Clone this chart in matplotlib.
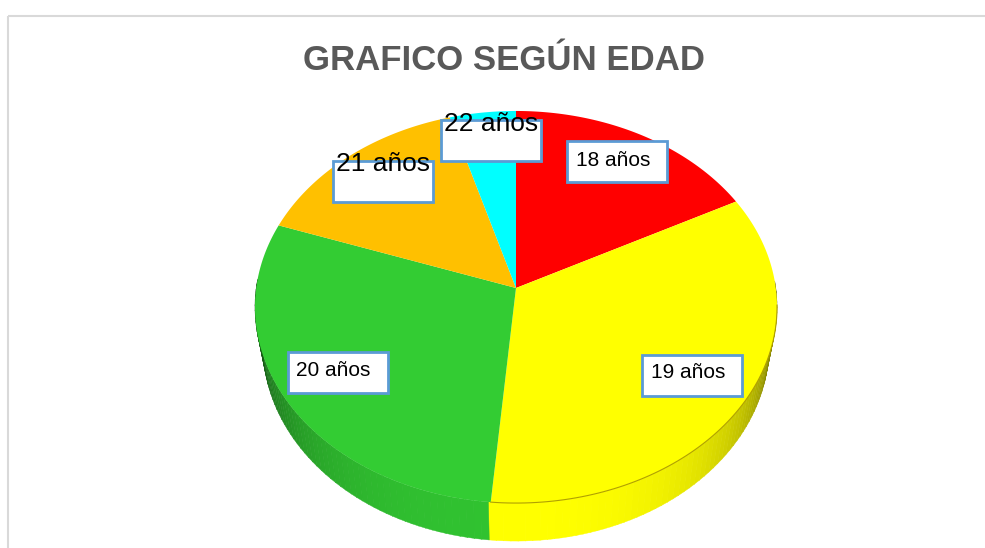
import numpy as np
import matplotlib
matplotlib.use('Agg')
import matplotlib.pyplot as plt
from matplotlib.patches import Rectangle
from matplotlib.path import Path
from matplotlib.transforms import Affine2D, Transform
from matplotlib.colors import to_rgb

plt.rcParams['font.family'] = ['Liberation Sans', 'DejaVu Sans']

labels = ['18 años', '19 años', '20 años', '21 años', '22 años']
values = [17.3, 34.1, 29.0, 15.1, 4.5]
colors = ['#ff0000', '#ffff00', '#33cc33', '#ffc000', '#00ffff']

# label box left, top, text x, text y, font size
boxes = [
    (567, 141, 576, 160, 15),
    (642, 355, 651, 373, 15),
    (288, 352, 296, 371, 15),
    (333, 161, 336, 164, 19),
    (441, 120, 444, 124, 19),
]

CX, CY = 516, 288
PERSP = 0.097
SCALE_X, SCALE_Y = 259.8, 194.2
DEPTH = 38
SHRINK = 0.97


def project(xy):
    # tilted disc, the far side looks smaller than the near side
    u, v = xy[:, 0], xy[:, 1]
    w = 1 + PERSP * v
    return np.column_stack([CX + SCALE_X * u / w, CY - SCALE_Y * v / w])


class Tilt(Transform):
    input_dims = 2
    output_dims = 2
    is_separable = False
    has_inverse = False

    def transform_non_affine(self, xy):
        return project(np.asarray(xy, dtype=float))

    def transform_path_non_affine(self, path):
        big = path.transformed(Affine2D().scale(2000))
        poly = big.to_polygons(closed_only=False)[0] / 2000
        return Path(project(poly))


fig = plt.figure(figsize=(9.85, 5.48), dpi=100)
ax = fig.add_axes([0, 0, 1, 1])

wedges, _ = ax.pie(values, colors=colors, startangle=90, counterclock=False,
                   wedgeprops={'linewidth': 0})
tilt = Tilt() + ax.transData
for w in wedges:
    w.set_transform(tilt)
    w.set_zorder(3)
    w.set_clip_on(False)

ax.set_aspect('auto')
ax.set_xlim(0, 985)
ax.set_ylim(548, 0)
ax.axis('off')

# side wall of the disc
edges = np.cumsum([0] + values) / sum(values) * 360
steps = np.arange(88, 272, 1.5)
for a in steps:
    t = np.radians([a, a + 1.6])
    rim = project(np.column_stack([np.sin(t), np.cos(t)]))
    low = rim.copy()
    low[:, 0] = CX + SHRINK * (rim[:, 0] - CX)
    low[:, 1] = rim[:, 1] + DEPTH
    idx = np.searchsorted(edges, a, side='right') - 1
    off = abs(a - 180) / 90
    shade = 1 - 0.75 * off ** 2.5
    c = np.array(to_rgb(colors[idx])) * shade
    if idx == 2:
        c = c * 0.95
    xs = [rim[0, 0], rim[1, 0], low[1, 0], low[0, 0]]
    ys = [rim[0, 1], rim[1, 1], low[1, 1], low[0, 1]]
    ax.fill(xs, ys, color=c, lw=0.3, zorder=2)

# rim line on the yellow part
t = np.radians(np.linspace(edges[2], 95, 80))
rim = project(np.column_stack([np.sin(t), np.cos(t)]))
ax.plot(rim[:, 0], rim[:, 1], color='#b0a000', lw=0.8, zorder=4)

# outer frame, only top and left
ax.plot([8, 985], [16, 16], color='#d9d9d9', lw=1.5, zorder=1, solid_capstyle='butt')
ax.plot([8, 8], [16, 548], color='#d9d9d9', lw=1.5, zorder=1, solid_capstyle='butt')

ax.text(504, 60, 'GRAFICO SEGÚN EDAD', ha='center', va='center', fontsize=25,
        fontweight='bold', color='#595959')

for name, (bx, by, tx, ty, fs) in zip(labels, boxes):
    ax.add_patch(Rectangle((bx, by), 100, 41, facecolor='white', edgecolor='#5b9bd5',
                           lw=2, zorder=5))
    ax.text(tx, ty, name, ha='left', va='center', fontsize=fs, color='black', zorder=6)

fig.savefig('out.png', dpi=100)
